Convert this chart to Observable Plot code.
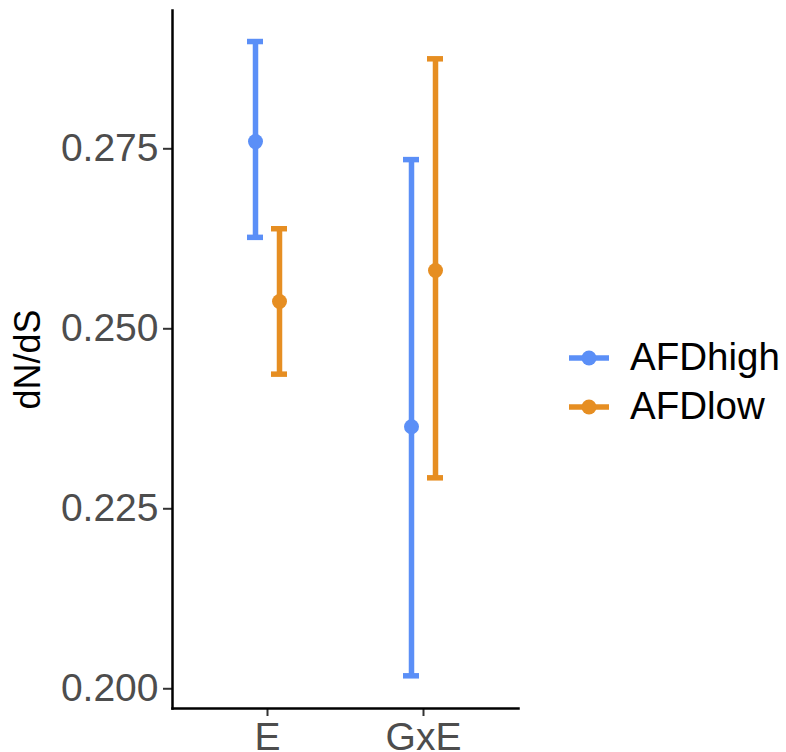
<!DOCTYPE html>
<html>
<head>
<meta charset="utf-8">
<script src="https://cdn.jsdelivr.net/npm/d3@7"></script>
<script src="https://cdn.jsdelivr.net/npm/@observablehq/plot@0.6"></script>
<style>
  body { margin: 0; background: #fff; font-family: "Liberation Sans", Arial, sans-serif; }
  #wrap { position: relative; width: 786px; height: 752px; overflow: hidden; }
  #chart { position: absolute; left: 0; top: 0; }
  #legend { position: absolute; left: 566px; top: 333px; }
  .item { display: flex; align-items: center; height: 49px; }
  .item span { font-size: 38.5px; color: #000; margin-left: 18px; line-height: 1; }
</style>
</head>
<body>
<div id="wrap"><div id="chart"></div><div id="legend"></div></div>
<script>
const categories = ["E", "GxE"];
const seriesNames = ["AFDhigh", "AFDlow"];
const colors = ["#5b8ff7", "#e68e22"];
const rowCategory = ["E", "E", "GxE", "GxE"];
const rowSeries = ["AFDhigh", "AFDlow", "AFDhigh", "AFDlow"];
const meanValues = [0.2760, 0.2538, 0.2364, 0.2581];
const lowerValues = [0.2627, 0.2437, 0.2018, 0.2293];
const upperValues = [0.2899, 0.2639, 0.2735, 0.2875];
const yTicks = [0.200, 0.225, 0.250, 0.275];
const yDomain = [0.19726, 0.29421];

const rows = rowCategory.map((c, i) => ({
  cat: c, series: rowSeries[i], mean: meanValues[i], lo: lowerValues[i], hi: upperValues[i]
}));

const offsets = {AFDhigh: -12, AFDlow: 12};
const marks = [];
seriesNames.forEach((s, k) => {
  const d = rows.filter(r => r.series === s);
  const col = colors[k];
  const dx = offsets[s];
  marks.push(Plot.ruleX(d, {x: "cat", y1: "lo", y2: "hi", stroke: col, strokeWidth: 5.5, dx}));
  marks.push(Plot.ruleY(d, {x1: "cat", x2: "cat", y: "lo", stroke: col, strokeWidth: 5.5, insetLeft: -8, insetRight: -8, dx}));
  marks.push(Plot.ruleY(d, {x1: "cat", x2: "cat", y: "hi", stroke: col, strokeWidth: 5.5, insetLeft: -8, insetRight: -8, dx}));
  marks.push(Plot.dot(d, {x: "cat", y: "mean", fill: col, r: 7.5, dx}));
});

const chart = Plot.plot({
  width: 530,
  height: 752,
  marginLeft: 172,
  marginRight: 12,
  marginTop: 10,
  marginBottom: 44,
  style: {fontFamily: "'Liberation Sans', Arial, sans-serif", background: "#fff", overflow: "visible"},
  x: {type: "point", domain: categories, padding: 0.602},
  y: {domain: yDomain},
  marks: [
    Plot.axisY({ticks: yTicks, tickFormat: d3.format(".3f"), tickSize: 9, tickPadding: 5, fontSize: 39,
      stroke: "#333", strokeWidth: 2, fill: "#4d4d4d", label: null}),
    Plot.axisX({tickSize: 8, tickPadding: 6, fontSize: 39, stroke: "#333", strokeWidth: 2, fill: "#4d4d4d", label: null}),
    Plot.frame({anchor: "left", stroke: "#000", strokeWidth: 2.5}),
    Plot.frame({anchor: "bottom", stroke: "#000", strokeWidth: 2.5}),
    Plot.text(["dN/dS"], {frameAnchor: "left", textAnchor: "middle", dx: -144, rotate: -90, fontSize: 36, fill: "#000"}),
    ...marks
  ]
});
document.getElementById("chart").appendChild(chart);

const legend = document.getElementById("legend");
seriesNames.forEach((s, k) => {
  const div = document.createElement("div");
  div.className = "item";
  div.innerHTML = `<svg width="46" height="20"><line x1="3" x2="43" y1="10" y2="10" stroke="${colors[k]}" stroke-width="5.5"/><circle cx="23" cy="10" r="7.5" fill="${colors[k]}"/></svg><span>${s}</span>`;
  legend.appendChild(div);
});
</script>
</body>
</html>
